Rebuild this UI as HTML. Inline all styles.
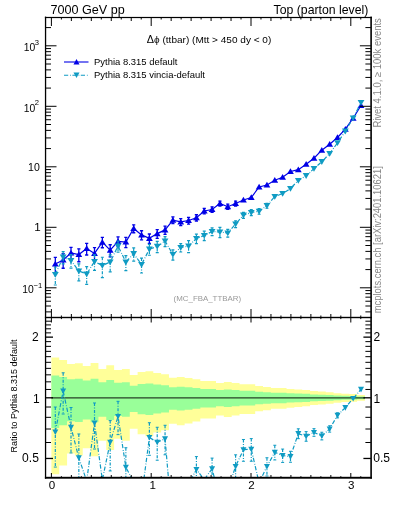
<!DOCTYPE html><html><head><meta charset="utf-8"><style>html,body{margin:0;padding:0;background:#fff;width:393px;height:512px;overflow:hidden;position:relative}svg text{font-family:"Liberation Sans",sans-serif}svg{will-change:transform}</style></head><body><svg width="393" height="512" viewBox="0 0 393 512" style="position:absolute;left:0;top:0"><defs><clipPath id="cm"><rect x="45.5" y="17.5" width="325.4" height="300"/></clipPath><clipPath id="cr"><rect x="45.5" y="317.5" width="325.4" height="160"/></clipPath></defs><g clip-path="url(#cr)"><path d="M51.40 357.60 L59.24 357.60 L59.24 360.10 L67.08 360.10 L67.08 364.00 L74.91 364.00 L74.91 363.30 L82.75 363.30 L82.75 366.00 L90.59 366.00 L90.59 363.10 L98.43 363.10 L98.43 369.10 L106.27 369.10 L106.27 365.30 L114.11 365.30 L114.11 370.00 L121.94 370.00 L121.94 369.10 L129.78 369.10 L129.78 375.00 L137.62 375.00 L137.62 372.10 L145.46 372.10 L145.46 371.20 L153.30 371.20 L153.30 373.00 L161.14 373.00 L161.14 374.20 L168.97 374.20 L168.97 377.80 L176.81 377.80 L176.81 377.00 L184.65 377.00 L184.65 378.00 L192.49 378.00 L192.49 379.20 L200.33 379.20 L200.33 381.00 L208.17 381.00 L208.17 381.00 L216.00 381.00 L216.00 383.00 L223.84 383.00 L223.84 382.00 L231.68 382.00 L231.68 383.00 L239.52 383.00 L239.52 384.20 L247.36 384.20 L247.36 384.20 L255.20 384.20 L255.20 386.10 L263.03 386.10 L263.03 386.90 L270.87 386.90 L270.87 388.00 L278.71 388.00 L278.71 388.00 L286.55 388.00 L286.55 388.90 L294.39 388.90 L294.39 389.50 L302.22 389.50 L302.22 390.10 L310.06 390.10 L310.06 391.10 L317.90 391.10 L317.90 391.60 L325.74 391.60 L325.74 392.20 L333.58 392.20 L333.58 393.20 L341.42 393.20 L341.42 393.80 L349.25 393.80 L349.25 394.10 L357.09 394.10 L357.09 395.00 L364.93 395.00 L364.93 400.69 L357.09 400.69 L357.09 401.66 L349.25 401.66 L349.25 401.99 L341.42 401.99 L341.42 402.66 L333.58 402.66 L333.58 403.78 L325.74 403.78 L325.74 404.47 L317.90 404.47 L317.90 405.06 L310.06 405.06 L310.06 406.24 L302.22 406.24 L302.22 406.97 L294.39 406.97 L294.39 407.71 L286.55 407.71 L286.55 408.84 L278.71 408.84 L278.71 408.84 L270.87 408.84 L270.87 410.25 L263.03 410.25 L263.03 411.31 L255.20 411.31 L255.20 413.91 L247.36 413.91 L247.36 413.91 L239.52 413.91 L239.52 415.62 L231.68 415.62 L231.68 417.10 L223.84 417.10 L223.84 415.62 L216.00 415.62 L216.00 418.61 L208.17 418.61 L208.17 418.61 L200.33 418.61 L200.33 421.45 L192.49 421.45 L192.49 423.43 L184.65 423.43 L184.65 425.14 L176.81 425.14 L176.81 423.77 L168.97 423.77 L168.97 430.21 L161.14 430.21 L161.14 432.54 L153.30 432.54 L153.30 436.20 L145.46 436.20 L145.46 434.34 L137.62 434.34 L137.62 428.72 L129.78 428.72 L129.78 440.79 L121.94 440.79 L121.94 438.78 L114.11 438.78 L114.11 450.08 L106.27 450.08 L106.27 440.79 L98.43 440.79 L98.43 456.15 L90.59 456.15 L90.59 448.26 L82.75 448.26 L82.75 455.57 L74.91 455.57 L74.91 453.60 L67.08 453.60 L67.08 465.47 L59.24 465.47 L59.24 474.36 L51.40 474.36Z" fill="#ffff99"/><path d="M51.40 375.41 L59.24 375.41 L59.24 376.94 L67.08 376.94 L67.08 379.28 L74.91 379.28 L74.91 378.86 L82.75 378.86 L82.75 380.46 L90.59 380.46 L90.59 378.74 L98.43 378.74 L98.43 382.28 L106.27 382.28 L106.27 380.05 L114.11 380.05 L114.11 382.80 L121.94 382.80 L121.94 382.28 L129.78 382.28 L129.78 385.66 L137.62 385.66 L137.62 384.01 L145.46 384.01 L145.46 383.49 L153.30 383.49 L153.30 384.52 L161.14 384.52 L161.14 385.21 L168.97 385.21 L168.97 387.23 L176.81 387.23 L176.81 386.78 L184.65 386.78 L184.65 387.34 L192.49 387.34 L192.49 388.01 L200.33 388.01 L200.33 389.00 L208.17 389.00 L208.17 389.00 L216.00 389.00 L216.00 390.09 L223.84 390.09 L223.84 389.54 L231.68 389.54 L231.68 390.09 L239.52 390.09 L239.52 390.74 L247.36 390.74 L247.36 390.74 L255.20 390.74 L255.20 391.75 L263.03 391.75 L263.03 392.18 L270.87 392.18 L270.87 392.76 L278.71 392.76 L278.71 392.76 L286.55 392.76 L286.55 393.24 L294.39 393.24 L294.39 393.55 L302.22 393.55 L302.22 393.87 L310.06 393.87 L310.06 394.39 L317.90 394.39 L317.90 394.65 L325.74 394.65 L325.74 394.96 L333.58 394.96 L333.58 395.47 L341.42 395.47 L341.42 395.78 L349.25 395.78 L349.25 395.93 L357.09 395.93 L357.09 396.39 L364.93 396.39 L364.93 399.23 L357.09 399.23 L357.09 399.71 L349.25 399.71 L349.25 399.87 L341.42 399.87 L341.42 400.19 L333.58 400.19 L333.58 400.74 L325.74 400.74 L325.74 401.07 L317.90 401.07 L317.90 401.35 L310.06 401.35 L310.06 401.92 L302.22 401.92 L302.22 402.27 L294.39 402.27 L294.39 402.61 L286.55 402.61 L286.55 403.14 L278.71 403.14 L278.71 403.14 L270.87 403.14 L270.87 403.81 L263.03 403.81 L263.03 404.29 L255.20 404.29 L255.20 405.48 L247.36 405.48 L247.36 405.48 L239.52 405.48 L239.52 406.26 L231.68 406.26 L231.68 406.92 L223.84 406.92 L223.84 406.26 L216.00 406.26 L216.00 407.59 L208.17 407.59 L208.17 407.59 L200.33 407.59 L200.33 408.83 L192.49 408.83 L192.49 409.68 L184.65 409.68 L184.65 410.41 L176.81 410.41 L176.81 409.82 L168.97 409.82 L168.97 412.51 L161.14 412.51 L161.14 413.46 L153.30 413.46 L153.30 414.91 L145.46 414.91 L145.46 414.18 L137.62 414.18 L137.62 411.90 L129.78 411.90 L129.78 416.68 L121.94 416.68 L121.94 415.91 L114.11 415.91 L114.11 420.09 L106.27 420.09 L106.27 416.68 L98.43 416.68 L98.43 422.20 L90.59 422.20 L90.59 419.44 L82.75 419.44 L82.75 422.00 L74.91 422.00 L74.91 421.32 L67.08 421.32 L67.08 425.25 L59.24 425.25 L59.24 427.96 L51.40 427.96Z" fill="#99ff99"/></g><line x1="51.40" y1="397.8" x2="364.93" y2="397.8" stroke="#000" stroke-opacity="0.75" stroke-width="1.2"/><g clip-path="url(#cr)"><polyline points="55.32,432.00 63.16,391.00 71.00,427.30 78.83,457.80 86.67,481.00 94.51,423.00 102.35,480.00 110.19,442.20 118.03,416.40 125.86,467.20 133.70,482.00 141.54,497.00 149.38,437.50 157.22,442.20 165.05,438.80 172.89,530.00 180.73,530.00 188.57,484.00 196.41,469.50 204.25,479.50 212.08,468.80 219.92,500.00 227.76,490.00 235.60,466.40 243.44,449.70 251.28,449.20 259.11,483.00 266.95,466.40 274.79,452.30 282.63,455.50 290.47,456.60 298.31,433.60 306.14,436.30 313.98,432.40 321.82,436.00 329.66,428.90 337.50,415.30 345.34,407.60 353.17,398.50 361.01,389.30" fill="none" stroke="#0f9bc3" stroke-width="1.2" stroke-dasharray="4.2,1.9,0.8,1.5"/><line x1="55.32" y1="407.04" x2="55.32" y2="467.05" stroke="#0f9bc3" stroke-width="1.2" stroke-dasharray="3,1.5,1,1.5"/><line x1="53.82" y1="407.04" x2="56.82" y2="407.04" stroke="#0f9bc3" stroke-width="1.0"/><line x1="53.82" y1="467.05" x2="56.82" y2="467.05" stroke="#0f9bc3" stroke-width="1.0"/><path d="M55.32 435.08L58.32 429.48L52.32 429.48Z" fill="#0f9bc3"/><line x1="63.16" y1="372.81" x2="63.16" y2="413.99" stroke="#0f9bc3" stroke-width="1.2" stroke-dasharray="3,1.5,1,1.5"/><line x1="61.66" y1="372.81" x2="64.66" y2="372.81" stroke="#0f9bc3" stroke-width="1.0"/><line x1="61.66" y1="413.99" x2="64.66" y2="413.99" stroke="#0f9bc3" stroke-width="1.0"/><path d="M63.16 394.08L66.16 388.48L60.16 388.48Z" fill="#0f9bc3"/><line x1="71.00" y1="407.49" x2="71.00" y2="452.94" stroke="#0f9bc3" stroke-width="1.2" stroke-dasharray="3,1.5,1,1.5"/><line x1="69.50" y1="407.49" x2="72.50" y2="407.49" stroke="#0f9bc3" stroke-width="1.0"/><line x1="69.50" y1="452.94" x2="72.50" y2="452.94" stroke="#0f9bc3" stroke-width="1.0"/><path d="M71.00 430.38L74.00 424.78L68.00 424.78Z" fill="#0f9bc3"/><line x1="78.83" y1="433.97" x2="78.83" y2="490.65" stroke="#0f9bc3" stroke-width="1.2" stroke-dasharray="3,1.5,1,1.5"/><line x1="77.33" y1="433.97" x2="80.33" y2="433.97" stroke="#0f9bc3" stroke-width="1.0"/><line x1="77.33" y1="490.65" x2="80.33" y2="490.65" stroke="#0f9bc3" stroke-width="1.0"/><path d="M78.83 460.88L81.83 455.28L75.83 455.28Z" fill="#0f9bc3"/><line x1="94.51" y1="402.98" x2="94.51" y2="449.00" stroke="#0f9bc3" stroke-width="1.2" stroke-dasharray="3,1.5,1,1.5"/><line x1="93.01" y1="402.98" x2="96.01" y2="402.98" stroke="#0f9bc3" stroke-width="1.0"/><line x1="93.01" y1="449.00" x2="96.01" y2="449.00" stroke="#0f9bc3" stroke-width="1.0"/><path d="M94.51 426.08L97.51 420.48L91.51 420.48Z" fill="#0f9bc3"/><line x1="110.19" y1="420.60" x2="110.19" y2="470.95" stroke="#0f9bc3" stroke-width="1.2" stroke-dasharray="3,1.5,1,1.5"/><line x1="108.69" y1="420.60" x2="111.69" y2="420.60" stroke="#0f9bc3" stroke-width="1.0"/><line x1="108.69" y1="470.95" x2="111.69" y2="470.95" stroke="#0f9bc3" stroke-width="1.0"/><path d="M110.19 445.28L113.19 439.68L107.19 439.68Z" fill="#0f9bc3"/><line x1="118.03" y1="401.32" x2="118.03" y2="434.62" stroke="#0f9bc3" stroke-width="1.2" stroke-dasharray="3,1.5,1,1.5"/><line x1="116.53" y1="401.32" x2="119.53" y2="401.32" stroke="#0f9bc3" stroke-width="1.0"/><line x1="116.53" y1="434.62" x2="119.53" y2="434.62" stroke="#0f9bc3" stroke-width="1.0"/><path d="M118.03 419.48L121.03 413.88L115.03 413.88Z" fill="#0f9bc3"/><line x1="125.86" y1="447.74" x2="125.86" y2="492.26" stroke="#0f9bc3" stroke-width="1.2" stroke-dasharray="3,1.5,1,1.5"/><line x1="124.36" y1="447.74" x2="127.36" y2="447.74" stroke="#0f9bc3" stroke-width="1.0"/><line x1="124.36" y1="492.26" x2="127.36" y2="492.26" stroke="#0f9bc3" stroke-width="1.0"/><path d="M125.86 470.28L128.86 464.68L122.86 464.68Z" fill="#0f9bc3"/><line x1="149.38" y1="422.72" x2="149.38" y2="455.29" stroke="#0f9bc3" stroke-width="1.2" stroke-dasharray="3,1.5,1,1.5"/><line x1="147.88" y1="422.72" x2="150.88" y2="422.72" stroke="#0f9bc3" stroke-width="1.0"/><line x1="147.88" y1="455.29" x2="150.88" y2="455.29" stroke="#0f9bc3" stroke-width="1.0"/><path d="M149.38 440.58L152.38 434.98L146.38 434.98Z" fill="#0f9bc3"/><line x1="157.22" y1="427.27" x2="157.22" y2="460.21" stroke="#0f9bc3" stroke-width="1.2" stroke-dasharray="3,1.5,1,1.5"/><line x1="155.72" y1="427.27" x2="158.72" y2="427.27" stroke="#0f9bc3" stroke-width="1.0"/><line x1="155.72" y1="460.21" x2="158.72" y2="460.21" stroke="#0f9bc3" stroke-width="1.0"/><path d="M157.22 445.28L160.22 439.68L154.22 439.68Z" fill="#0f9bc3"/><line x1="165.05" y1="425.29" x2="165.05" y2="454.79" stroke="#0f9bc3" stroke-width="1.2" stroke-dasharray="3,1.5,1,1.5"/><line x1="163.55" y1="425.29" x2="166.55" y2="425.29" stroke="#0f9bc3" stroke-width="1.0"/><line x1="163.55" y1="454.79" x2="166.55" y2="454.79" stroke="#0f9bc3" stroke-width="1.0"/><path d="M165.05 441.88L168.05 436.28L162.05 436.28Z" fill="#0f9bc3"/><line x1="196.41" y1="456.59" x2="196.41" y2="484.65" stroke="#0f9bc3" stroke-width="1.2" stroke-dasharray="3,1.5,1,1.5"/><line x1="194.91" y1="456.59" x2="197.91" y2="456.59" stroke="#0f9bc3" stroke-width="1.0"/><line x1="194.91" y1="484.65" x2="197.91" y2="484.65" stroke="#0f9bc3" stroke-width="1.0"/><path d="M196.41 472.58L199.41 466.98L193.41 466.98Z" fill="#0f9bc3"/><line x1="212.08" y1="458.10" x2="212.08" y2="480.99" stroke="#0f9bc3" stroke-width="1.2" stroke-dasharray="3,1.5,1,1.5"/><line x1="210.58" y1="458.10" x2="213.58" y2="458.10" stroke="#0f9bc3" stroke-width="1.0"/><line x1="210.58" y1="480.99" x2="213.58" y2="480.99" stroke="#0f9bc3" stroke-width="1.0"/><path d="M212.08 471.88L215.08 466.28L209.08 466.28Z" fill="#0f9bc3"/><line x1="235.60" y1="454.84" x2="235.60" y2="479.73" stroke="#0f9bc3" stroke-width="1.2" stroke-dasharray="3,1.5,1,1.5"/><line x1="234.10" y1="454.84" x2="237.10" y2="454.84" stroke="#0f9bc3" stroke-width="1.0"/><line x1="234.10" y1="479.73" x2="237.10" y2="479.73" stroke="#0f9bc3" stroke-width="1.0"/><path d="M235.60 469.48L238.60 463.88L232.60 463.88Z" fill="#0f9bc3"/><line x1="243.44" y1="439.49" x2="243.44" y2="461.26" stroke="#0f9bc3" stroke-width="1.2" stroke-dasharray="3,1.5,1,1.5"/><line x1="241.94" y1="439.49" x2="244.94" y2="439.49" stroke="#0f9bc3" stroke-width="1.0"/><line x1="241.94" y1="461.26" x2="244.94" y2="461.26" stroke="#0f9bc3" stroke-width="1.0"/><path d="M243.44 452.78L246.44 447.18L240.44 447.18Z" fill="#0f9bc3"/><line x1="251.28" y1="438.60" x2="251.28" y2="461.26" stroke="#0f9bc3" stroke-width="1.2" stroke-dasharray="3,1.5,1,1.5"/><line x1="249.78" y1="438.60" x2="252.78" y2="438.60" stroke="#0f9bc3" stroke-width="1.0"/><line x1="249.78" y1="461.26" x2="252.78" y2="461.26" stroke="#0f9bc3" stroke-width="1.0"/><path d="M251.28 452.28L254.28 446.68L248.28 446.68Z" fill="#0f9bc3"/><line x1="266.95" y1="457.76" x2="266.95" y2="475.99" stroke="#0f9bc3" stroke-width="1.2" stroke-dasharray="3,1.5,1,1.5"/><line x1="265.45" y1="457.76" x2="268.45" y2="457.76" stroke="#0f9bc3" stroke-width="1.0"/><line x1="265.45" y1="475.99" x2="268.45" y2="475.99" stroke="#0f9bc3" stroke-width="1.0"/><path d="M266.95 469.48L269.95 463.88L263.95 463.88Z" fill="#0f9bc3"/><line x1="274.79" y1="445.26" x2="274.79" y2="459.95" stroke="#0f9bc3" stroke-width="1.2" stroke-dasharray="3,1.5,1,1.5"/><line x1="273.29" y1="445.26" x2="276.29" y2="445.26" stroke="#0f9bc3" stroke-width="1.0"/><line x1="273.29" y1="459.95" x2="276.29" y2="459.95" stroke="#0f9bc3" stroke-width="1.0"/><path d="M274.79 455.38L277.79 449.78L271.79 449.78Z" fill="#0f9bc3"/><line x1="282.63" y1="449.07" x2="282.63" y2="462.44" stroke="#0f9bc3" stroke-width="1.2" stroke-dasharray="3,1.5,1,1.5"/><line x1="281.13" y1="449.07" x2="284.13" y2="449.07" stroke="#0f9bc3" stroke-width="1.0"/><line x1="281.13" y1="462.44" x2="284.13" y2="462.44" stroke="#0f9bc3" stroke-width="1.0"/><path d="M282.63 458.58L285.63 452.98L279.63 452.98Z" fill="#0f9bc3"/><line x1="290.47" y1="451.29" x2="290.47" y2="462.25" stroke="#0f9bc3" stroke-width="1.2" stroke-dasharray="3,1.5,1,1.5"/><line x1="288.97" y1="451.29" x2="291.97" y2="451.29" stroke="#0f9bc3" stroke-width="1.0"/><line x1="288.97" y1="462.25" x2="291.97" y2="462.25" stroke="#0f9bc3" stroke-width="1.0"/><path d="M290.47 459.68L293.47 454.08L287.47 454.08Z" fill="#0f9bc3"/><line x1="298.31" y1="428.81" x2="298.31" y2="438.67" stroke="#0f9bc3" stroke-width="1.2" stroke-dasharray="3,1.5,1,1.5"/><line x1="296.81" y1="428.81" x2="299.81" y2="428.81" stroke="#0f9bc3" stroke-width="1.0"/><line x1="296.81" y1="438.67" x2="299.81" y2="438.67" stroke="#0f9bc3" stroke-width="1.0"/><path d="M298.31 436.68L301.31 431.08L295.31 431.08Z" fill="#0f9bc3"/><line x1="306.14" y1="431.61" x2="306.14" y2="441.25" stroke="#0f9bc3" stroke-width="1.2" stroke-dasharray="3,1.5,1,1.5"/><line x1="304.64" y1="431.61" x2="307.64" y2="431.61" stroke="#0f9bc3" stroke-width="1.0"/><line x1="304.64" y1="441.25" x2="307.64" y2="441.25" stroke="#0f9bc3" stroke-width="1.0"/><path d="M306.14 439.38L309.14 433.78L303.14 433.78Z" fill="#0f9bc3"/><line x1="313.98" y1="428.65" x2="313.98" y2="436.31" stroke="#0f9bc3" stroke-width="1.2" stroke-dasharray="3,1.5,1,1.5"/><line x1="312.48" y1="428.65" x2="315.48" y2="428.65" stroke="#0f9bc3" stroke-width="1.0"/><line x1="312.48" y1="436.31" x2="315.48" y2="436.31" stroke="#0f9bc3" stroke-width="1.0"/><path d="M313.98 435.48L316.98 429.88L310.98 429.88Z" fill="#0f9bc3"/><line x1="321.82" y1="432.25" x2="321.82" y2="439.91" stroke="#0f9bc3" stroke-width="1.2" stroke-dasharray="3,1.5,1,1.5"/><line x1="320.32" y1="432.25" x2="323.32" y2="432.25" stroke="#0f9bc3" stroke-width="1.0"/><line x1="320.32" y1="439.91" x2="323.32" y2="439.91" stroke="#0f9bc3" stroke-width="1.0"/><path d="M321.82 439.08L324.82 433.48L318.82 433.48Z" fill="#0f9bc3"/><line x1="329.66" y1="425.78" x2="329.66" y2="432.13" stroke="#0f9bc3" stroke-width="1.2" stroke-dasharray="3,1.5,1,1.5"/><line x1="328.16" y1="425.78" x2="331.16" y2="425.78" stroke="#0f9bc3" stroke-width="1.0"/><line x1="328.16" y1="432.13" x2="331.16" y2="432.13" stroke="#0f9bc3" stroke-width="1.0"/><path d="M329.66 431.98L332.66 426.38L326.66 426.38Z" fill="#0f9bc3"/><line x1="337.50" y1="412.82" x2="337.50" y2="417.85" stroke="#0f9bc3" stroke-width="1.2" stroke-dasharray="3,1.5,1,1.5"/><line x1="336.00" y1="412.82" x2="339.00" y2="412.82" stroke="#0f9bc3" stroke-width="1.0"/><line x1="336.00" y1="417.85" x2="339.00" y2="417.85" stroke="#0f9bc3" stroke-width="1.0"/><path d="M337.50 418.38L340.50 412.78L334.50 412.78Z" fill="#0f9bc3"/><path d="M345.34 410.68L348.34 405.08L342.34 405.08Z" fill="#0f9bc3"/><path d="M353.17 401.58L356.17 395.98L350.17 395.98Z" fill="#0f9bc3"/><path d="M361.01 392.38L364.01 386.78L358.01 386.78Z" fill="#0f9bc3"/></g><g clip-path="url(#cm)"><polyline points="55.32,264.00 63.16,260.00 71.00,253.00 78.83,254.50 86.67,248.50 94.51,253.40 102.35,242.10 110.19,250.10 118.03,241.40 125.86,242.00 133.70,228.50 141.54,234.90 149.38,238.30 157.22,233.60 165.05,229.90 172.89,220.10 180.73,221.90 188.57,220.50 196.41,217.70 204.25,211.00 212.08,209.50 219.92,203.50 227.76,206.70 235.60,203.50 243.44,200.00 251.28,197.50 259.11,187.00 266.95,185.00 274.79,180.20 282.63,177.20 290.47,171.50 298.31,169.70 306.14,164.20 313.98,158.20 321.82,150.20 329.66,144.20 337.50,137.50 345.34,129.20 353.17,118.20 361.01,105.50" fill="none" stroke="#0000e6" stroke-width="1.2"/><line x1="55.32" y1="257.28" x2="55.32" y2="273.06" stroke="#0000e6" stroke-width="1.3"/><line x1="53.72" y1="257.28" x2="56.92" y2="257.28" stroke="#0000e6" stroke-width="1.3"/><line x1="53.72" y1="273.06" x2="56.92" y2="273.06" stroke="#0000e6" stroke-width="1.3"/><path d="M55.32 260.81L58.72 266.61L51.92 266.61Z" fill="#0000e6"/><line x1="63.16" y1="253.74" x2="63.16" y2="268.24" stroke="#0000e6" stroke-width="1.3"/><line x1="61.56" y1="253.74" x2="64.76" y2="253.74" stroke="#0000e6" stroke-width="1.3"/><line x1="61.56" y1="268.24" x2="64.76" y2="268.24" stroke="#0000e6" stroke-width="1.3"/><path d="M63.16 256.81L66.56 262.61L59.76 262.61Z" fill="#0000e6"/><line x1="71.00" y1="247.44" x2="71.00" y2="260.06" stroke="#0000e6" stroke-width="1.3"/><line x1="69.40" y1="247.44" x2="72.60" y2="247.44" stroke="#0000e6" stroke-width="1.3"/><line x1="69.40" y1="260.06" x2="72.60" y2="260.06" stroke="#0000e6" stroke-width="1.3"/><path d="M71.00 249.81L74.40 255.61L67.60 255.61Z" fill="#0000e6"/><line x1="78.83" y1="248.81" x2="78.83" y2="261.77" stroke="#0000e6" stroke-width="1.3"/><line x1="77.23" y1="248.81" x2="80.43" y2="248.81" stroke="#0000e6" stroke-width="1.3"/><line x1="77.23" y1="261.77" x2="80.43" y2="261.77" stroke="#0000e6" stroke-width="1.3"/><path d="M78.83 251.31L82.23 257.11L75.43 257.11Z" fill="#0000e6"/><line x1="86.67" y1="243.29" x2="86.67" y2="255.00" stroke="#0000e6" stroke-width="1.3"/><line x1="85.07" y1="243.29" x2="88.27" y2="243.29" stroke="#0000e6" stroke-width="1.3"/><line x1="85.07" y1="255.00" x2="88.27" y2="255.00" stroke="#0000e6" stroke-width="1.3"/><path d="M86.67 245.31L90.07 251.11L83.27 251.11Z" fill="#0000e6"/><line x1="94.51" y1="247.68" x2="94.51" y2="260.73" stroke="#0000e6" stroke-width="1.3"/><line x1="92.91" y1="247.68" x2="96.11" y2="247.68" stroke="#0000e6" stroke-width="1.3"/><line x1="92.91" y1="260.73" x2="96.11" y2="260.73" stroke="#0000e6" stroke-width="1.3"/><path d="M94.51 250.21L97.91 256.01L91.11 256.01Z" fill="#0000e6"/><line x1="102.35" y1="237.44" x2="102.35" y2="247.77" stroke="#0000e6" stroke-width="1.3"/><line x1="100.75" y1="237.44" x2="103.95" y2="237.44" stroke="#0000e6" stroke-width="1.3"/><line x1="100.75" y1="247.77" x2="103.95" y2="247.77" stroke="#0000e6" stroke-width="1.3"/><path d="M102.35 238.91L105.75 244.71L98.95 244.71Z" fill="#0000e6"/><line x1="110.19" y1="244.77" x2="110.19" y2="256.79" stroke="#0000e6" stroke-width="1.3"/><line x1="108.59" y1="244.77" x2="111.79" y2="244.77" stroke="#0000e6" stroke-width="1.3"/><line x1="108.59" y1="256.79" x2="111.79" y2="256.79" stroke="#0000e6" stroke-width="1.3"/><path d="M110.19 246.91L113.59 252.71L106.79 252.71Z" fill="#0000e6"/><line x1="118.03" y1="236.90" x2="118.03" y2="246.84" stroke="#0000e6" stroke-width="1.3"/><line x1="116.43" y1="236.90" x2="119.63" y2="236.90" stroke="#0000e6" stroke-width="1.3"/><line x1="116.43" y1="246.84" x2="119.63" y2="246.84" stroke="#0000e6" stroke-width="1.3"/><path d="M118.03 238.21L121.43 244.01L114.63 244.01Z" fill="#0000e6"/><line x1="125.86" y1="237.34" x2="125.86" y2="247.67" stroke="#0000e6" stroke-width="1.3"/><line x1="124.26" y1="237.34" x2="127.46" y2="237.34" stroke="#0000e6" stroke-width="1.3"/><line x1="124.26" y1="247.67" x2="127.46" y2="247.67" stroke="#0000e6" stroke-width="1.3"/><path d="M125.86 238.81L129.26 244.61L122.46 244.61Z" fill="#0000e6"/><line x1="133.70" y1="224.85" x2="133.70" y2="232.73" stroke="#0000e6" stroke-width="1.3"/><line x1="132.10" y1="224.85" x2="135.30" y2="224.85" stroke="#0000e6" stroke-width="1.3"/><line x1="132.10" y1="232.73" x2="135.30" y2="232.73" stroke="#0000e6" stroke-width="1.3"/><path d="M133.70 225.31L137.10 231.11L130.30 231.11Z" fill="#0000e6"/><line x1="141.54" y1="230.76" x2="141.54" y2="239.82" stroke="#0000e6" stroke-width="1.3"/><line x1="139.94" y1="230.76" x2="143.14" y2="230.76" stroke="#0000e6" stroke-width="1.3"/><line x1="139.94" y1="239.82" x2="143.14" y2="239.82" stroke="#0000e6" stroke-width="1.3"/><path d="M141.54 231.71L144.94 237.51L138.14 237.51Z" fill="#0000e6"/><line x1="149.38" y1="234.00" x2="149.38" y2="243.44" stroke="#0000e6" stroke-width="1.3"/><line x1="147.78" y1="234.00" x2="150.98" y2="234.00" stroke="#0000e6" stroke-width="1.3"/><line x1="147.78" y1="243.44" x2="150.98" y2="243.44" stroke="#0000e6" stroke-width="1.3"/><path d="M149.38 235.11L152.78 240.91L145.98 240.91Z" fill="#0000e6"/><line x1="157.22" y1="229.61" x2="157.22" y2="238.30" stroke="#0000e6" stroke-width="1.3"/><line x1="155.62" y1="229.61" x2="158.82" y2="229.61" stroke="#0000e6" stroke-width="1.3"/><line x1="155.62" y1="238.30" x2="158.82" y2="238.30" stroke="#0000e6" stroke-width="1.3"/><path d="M157.22 230.41L160.62 236.21L153.82 236.21Z" fill="#0000e6"/><line x1="165.05" y1="226.12" x2="165.05" y2="234.32" stroke="#0000e6" stroke-width="1.3"/><line x1="163.45" y1="226.12" x2="166.65" y2="226.12" stroke="#0000e6" stroke-width="1.3"/><line x1="163.45" y1="234.32" x2="166.65" y2="234.32" stroke="#0000e6" stroke-width="1.3"/><path d="M165.05 226.71L168.45 232.51L161.65 232.51Z" fill="#0000e6"/><line x1="172.89" y1="216.93" x2="172.89" y2="223.71" stroke="#0000e6" stroke-width="1.3"/><line x1="171.29" y1="216.93" x2="174.49" y2="216.93" stroke="#0000e6" stroke-width="1.3"/><line x1="171.29" y1="223.71" x2="174.49" y2="223.71" stroke="#0000e6" stroke-width="1.3"/><path d="M172.89 216.91L176.29 222.71L169.49 222.71Z" fill="#0000e6"/><line x1="180.73" y1="218.59" x2="180.73" y2="225.68" stroke="#0000e6" stroke-width="1.3"/><line x1="179.13" y1="218.59" x2="182.33" y2="218.59" stroke="#0000e6" stroke-width="1.3"/><line x1="179.13" y1="225.68" x2="182.33" y2="225.68" stroke="#0000e6" stroke-width="1.3"/><path d="M180.73 218.71L184.13 224.51L177.33 224.51Z" fill="#0000e6"/><line x1="188.57" y1="217.36" x2="188.57" y2="224.07" stroke="#0000e6" stroke-width="1.3"/><line x1="186.97" y1="217.36" x2="190.17" y2="217.36" stroke="#0000e6" stroke-width="1.3"/><line x1="186.97" y1="224.07" x2="190.17" y2="224.07" stroke="#0000e6" stroke-width="1.3"/><path d="M188.57 217.31L191.97 223.11L185.17 223.11Z" fill="#0000e6"/><line x1="196.41" y1="214.76" x2="196.41" y2="221.01" stroke="#0000e6" stroke-width="1.3"/><line x1="194.81" y1="214.76" x2="198.01" y2="214.76" stroke="#0000e6" stroke-width="1.3"/><line x1="194.81" y1="221.01" x2="198.01" y2="221.01" stroke="#0000e6" stroke-width="1.3"/><path d="M196.41 214.51L199.81 220.31L193.01 220.31Z" fill="#0000e6"/><line x1="204.25" y1="208.36" x2="204.25" y2="213.94" stroke="#0000e6" stroke-width="1.3"/><line x1="202.65" y1="208.36" x2="205.85" y2="208.36" stroke="#0000e6" stroke-width="1.3"/><line x1="202.65" y1="213.94" x2="205.85" y2="213.94" stroke="#0000e6" stroke-width="1.3"/><path d="M204.25 207.81L207.65 213.61L200.85 213.61Z" fill="#0000e6"/><line x1="212.08" y1="206.86" x2="212.08" y2="212.44" stroke="#0000e6" stroke-width="1.3"/><line x1="210.48" y1="206.86" x2="213.68" y2="206.86" stroke="#0000e6" stroke-width="1.3"/><line x1="210.48" y1="212.44" x2="213.68" y2="212.44" stroke="#0000e6" stroke-width="1.3"/><path d="M212.08 206.31L215.48 212.11L208.68 212.11Z" fill="#0000e6"/><line x1="219.92" y1="201.18" x2="219.92" y2="206.04" stroke="#0000e6" stroke-width="1.3"/><line x1="218.32" y1="201.18" x2="221.52" y2="201.18" stroke="#0000e6" stroke-width="1.3"/><line x1="218.32" y1="206.04" x2="221.52" y2="206.04" stroke="#0000e6" stroke-width="1.3"/><path d="M219.92 200.31L223.32 206.11L216.52 206.11Z" fill="#0000e6"/><line x1="227.76" y1="204.22" x2="227.76" y2="209.44" stroke="#0000e6" stroke-width="1.3"/><line x1="226.16" y1="204.22" x2="229.36" y2="204.22" stroke="#0000e6" stroke-width="1.3"/><line x1="226.16" y1="209.44" x2="229.36" y2="209.44" stroke="#0000e6" stroke-width="1.3"/><path d="M227.76 203.51L231.16 209.31L224.36 209.31Z" fill="#0000e6"/><line x1="235.60" y1="201.18" x2="235.60" y2="206.04" stroke="#0000e6" stroke-width="1.3"/><line x1="234.00" y1="201.18" x2="237.20" y2="201.18" stroke="#0000e6" stroke-width="1.3"/><line x1="234.00" y1="206.04" x2="237.20" y2="206.04" stroke="#0000e6" stroke-width="1.3"/><path d="M235.60 200.31L239.00 206.11L232.20 206.11Z" fill="#0000e6"/><path d="M243.44 196.81L246.84 202.61L240.04 202.61Z" fill="#0000e6"/><path d="M251.28 194.31L254.68 200.11L247.88 200.11Z" fill="#0000e6"/><path d="M259.11 183.81L262.51 189.61L255.71 189.61Z" fill="#0000e6"/><path d="M266.95 181.81L270.35 187.61L263.55 187.61Z" fill="#0000e6"/><path d="M274.79 177.01L278.19 182.81L271.39 182.81Z" fill="#0000e6"/><path d="M282.63 174.01L286.03 179.81L279.23 179.81Z" fill="#0000e6"/><path d="M290.47 168.31L293.87 174.11L287.07 174.11Z" fill="#0000e6"/><path d="M298.31 166.51L301.71 172.31L294.91 172.31Z" fill="#0000e6"/><path d="M306.14 161.01L309.54 166.81L302.74 166.81Z" fill="#0000e6"/><path d="M313.98 155.01L317.38 160.81L310.58 160.81Z" fill="#0000e6"/><path d="M321.82 147.01L325.22 152.81L318.42 152.81Z" fill="#0000e6"/><path d="M329.66 141.01L333.06 146.81L326.26 146.81Z" fill="#0000e6"/><path d="M337.50 134.31L340.90 140.11L334.10 140.11Z" fill="#0000e6"/><path d="M345.34 126.01L348.74 131.81L341.94 131.81Z" fill="#0000e6"/><path d="M353.17 115.01L356.57 120.81L349.77 120.81Z" fill="#0000e6"/><path d="M361.01 102.31L364.41 108.11L357.61 108.11Z" fill="#0000e6"/><polyline points="55.32,274.50 63.16,257.00 71.00,260.50 78.83,271.00 86.67,274.00 94.51,261.50 102.35,265.50 110.19,262.00 118.03,246.00 125.86,262.00 133.70,253.70 141.54,264.50 149.38,249.20 157.22,246.40 165.05,241.10 172.89,254.50 180.73,247.50 188.57,246.00 196.41,238.50 204.25,235.50 212.08,231.50 219.92,232.00 227.76,233.00 235.60,224.00 243.44,215.20 251.28,212.50 259.11,211.30 266.95,205.70 274.79,196.50 282.63,193.60 290.47,188.50 298.31,180.50 306.14,175.70 313.98,168.60 321.82,161.70 329.66,153.60 337.50,142.90 345.34,131.20 353.17,118.00 361.01,102.60" fill="none" stroke="#0f9bc3" stroke-width="1.2" stroke-dasharray="4.2,1.9,0.8,1.5"/><line x1="55.32" y1="267.01" x2="55.32" y2="285.02" stroke="#0f9bc3" stroke-width="1.2" stroke-dasharray="3,1.5,1,1.5"/><line x1="53.82" y1="267.01" x2="56.82" y2="267.01" stroke="#0f9bc3" stroke-width="1.2"/><line x1="53.82" y1="285.02" x2="56.82" y2="285.02" stroke="#0f9bc3" stroke-width="1.2"/><path d="M55.32 277.69L58.72 271.89L51.92 271.89Z" fill="#0f9bc3"/><line x1="63.16" y1="251.54" x2="63.16" y2="263.90" stroke="#0f9bc3" stroke-width="1.2" stroke-dasharray="3,1.5,1,1.5"/><line x1="61.66" y1="251.54" x2="64.66" y2="251.54" stroke="#0f9bc3" stroke-width="1.2"/><line x1="61.66" y1="263.90" x2="64.66" y2="263.90" stroke="#0f9bc3" stroke-width="1.2"/><path d="M63.16 260.19L66.56 254.39L59.76 254.39Z" fill="#0f9bc3"/><line x1="71.00" y1="254.55" x2="71.00" y2="268.20" stroke="#0f9bc3" stroke-width="1.2" stroke-dasharray="3,1.5,1,1.5"/><line x1="69.50" y1="254.55" x2="72.50" y2="254.55" stroke="#0f9bc3" stroke-width="1.2"/><line x1="69.50" y1="268.20" x2="72.50" y2="268.20" stroke="#0f9bc3" stroke-width="1.2"/><path d="M71.00 263.69L74.40 257.89L67.60 257.89Z" fill="#0f9bc3"/><line x1="78.83" y1="263.84" x2="78.83" y2="280.86" stroke="#0f9bc3" stroke-width="1.2" stroke-dasharray="3,1.5,1,1.5"/><line x1="77.33" y1="263.84" x2="80.33" y2="263.84" stroke="#0f9bc3" stroke-width="1.2"/><line x1="77.33" y1="280.86" x2="80.33" y2="280.86" stroke="#0f9bc3" stroke-width="1.2"/><path d="M78.83 274.19L82.23 268.39L75.43 268.39Z" fill="#0f9bc3"/><line x1="86.67" y1="266.61" x2="86.67" y2="284.33" stroke="#0f9bc3" stroke-width="1.2" stroke-dasharray="3,1.5,1,1.5"/><line x1="85.17" y1="266.61" x2="88.17" y2="266.61" stroke="#0f9bc3" stroke-width="1.2"/><line x1="85.17" y1="284.33" x2="88.17" y2="284.33" stroke="#0f9bc3" stroke-width="1.2"/><path d="M86.67 277.19L90.07 271.39L83.27 271.39Z" fill="#0f9bc3"/><line x1="94.51" y1="254.85" x2="94.51" y2="270.42" stroke="#0f9bc3" stroke-width="1.2" stroke-dasharray="3,1.5,1,1.5"/><line x1="93.01" y1="254.85" x2="96.01" y2="254.85" stroke="#0f9bc3" stroke-width="1.2"/><line x1="93.01" y1="270.42" x2="96.01" y2="270.42" stroke="#0f9bc3" stroke-width="1.2"/><path d="M94.51 264.69L97.91 258.89L91.11 258.89Z" fill="#0f9bc3"/><line x1="102.35" y1="257.24" x2="102.35" y2="277.62" stroke="#0f9bc3" stroke-width="1.2" stroke-dasharray="3,1.5,1,1.5"/><line x1="100.85" y1="257.24" x2="103.85" y2="257.24" stroke="#0f9bc3" stroke-width="1.2"/><line x1="100.85" y1="277.62" x2="103.85" y2="277.62" stroke="#0f9bc3" stroke-width="1.2"/><path d="M102.35 268.69L105.75 262.89L98.95 262.89Z" fill="#0f9bc3"/><line x1="110.19" y1="254.83" x2="110.19" y2="271.89" stroke="#0f9bc3" stroke-width="1.2" stroke-dasharray="3,1.5,1,1.5"/><line x1="108.69" y1="254.83" x2="111.69" y2="254.83" stroke="#0f9bc3" stroke-width="1.2"/><line x1="108.69" y1="271.89" x2="111.69" y2="271.89" stroke="#0f9bc3" stroke-width="1.2"/><path d="M110.19 265.19L113.59 259.39L106.79 259.39Z" fill="#0f9bc3"/><line x1="118.03" y1="240.98" x2="118.03" y2="252.21" stroke="#0f9bc3" stroke-width="1.2" stroke-dasharray="3,1.5,1,1.5"/><line x1="116.53" y1="240.98" x2="119.53" y2="240.98" stroke="#0f9bc3" stroke-width="1.2"/><line x1="116.53" y1="252.21" x2="119.53" y2="252.21" stroke="#0f9bc3" stroke-width="1.2"/><path d="M118.03 249.19L121.43 243.39L114.63 243.39Z" fill="#0f9bc3"/><line x1="125.86" y1="255.54" x2="125.86" y2="270.59" stroke="#0f9bc3" stroke-width="1.2" stroke-dasharray="3,1.5,1,1.5"/><line x1="124.36" y1="255.54" x2="127.36" y2="255.54" stroke="#0f9bc3" stroke-width="1.2"/><line x1="124.36" y1="270.59" x2="127.36" y2="270.59" stroke="#0f9bc3" stroke-width="1.2"/><path d="M125.86 265.19L129.26 259.39L122.46 259.39Z" fill="#0f9bc3"/><line x1="133.70" y1="247.91" x2="133.70" y2="261.13" stroke="#0f9bc3" stroke-width="1.2" stroke-dasharray="3,1.5,1,1.5"/><line x1="132.20" y1="247.91" x2="135.20" y2="247.91" stroke="#0f9bc3" stroke-width="1.2"/><line x1="132.20" y1="261.13" x2="135.20" y2="261.13" stroke="#0f9bc3" stroke-width="1.2"/><path d="M133.70 256.89L137.10 251.09L130.30 251.09Z" fill="#0f9bc3"/><line x1="141.54" y1="258.08" x2="141.54" y2="273.01" stroke="#0f9bc3" stroke-width="1.2" stroke-dasharray="3,1.5,1,1.5"/><line x1="140.04" y1="258.08" x2="143.04" y2="258.08" stroke="#0f9bc3" stroke-width="1.2"/><line x1="140.04" y1="273.01" x2="143.04" y2="273.01" stroke="#0f9bc3" stroke-width="1.2"/><path d="M141.54 267.69L144.94 261.89L138.14 261.89Z" fill="#0f9bc3"/><line x1="149.38" y1="244.28" x2="149.38" y2="255.26" stroke="#0f9bc3" stroke-width="1.2" stroke-dasharray="3,1.5,1,1.5"/><line x1="147.88" y1="244.28" x2="150.88" y2="244.28" stroke="#0f9bc3" stroke-width="1.2"/><line x1="147.88" y1="255.26" x2="150.88" y2="255.26" stroke="#0f9bc3" stroke-width="1.2"/><path d="M149.38 252.39L152.78 246.59L145.98 246.59Z" fill="#0f9bc3"/><line x1="157.22" y1="241.43" x2="157.22" y2="252.54" stroke="#0f9bc3" stroke-width="1.2" stroke-dasharray="3,1.5,1,1.5"/><line x1="155.72" y1="241.43" x2="158.72" y2="241.43" stroke="#0f9bc3" stroke-width="1.2"/><line x1="155.72" y1="252.54" x2="158.72" y2="252.54" stroke="#0f9bc3" stroke-width="1.2"/><path d="M157.22 249.59L160.62 243.79L153.82 243.79Z" fill="#0f9bc3"/><line x1="165.05" y1="236.59" x2="165.05" y2="246.54" stroke="#0f9bc3" stroke-width="1.2" stroke-dasharray="3,1.5,1,1.5"/><line x1="163.55" y1="236.59" x2="166.55" y2="236.59" stroke="#0f9bc3" stroke-width="1.2"/><line x1="163.55" y1="246.54" x2="166.55" y2="246.54" stroke="#0f9bc3" stroke-width="1.2"/><path d="M165.05 244.29L168.45 238.49L161.65 238.49Z" fill="#0f9bc3"/><line x1="172.89" y1="249.92" x2="172.89" y2="260.05" stroke="#0f9bc3" stroke-width="1.2" stroke-dasharray="3,1.5,1,1.5"/><line x1="171.39" y1="249.92" x2="174.39" y2="249.92" stroke="#0f9bc3" stroke-width="1.2"/><line x1="171.39" y1="260.05" x2="174.39" y2="260.05" stroke="#0f9bc3" stroke-width="1.2"/><path d="M172.89 257.69L176.29 251.89L169.49 251.89Z" fill="#0f9bc3"/><line x1="180.73" y1="243.67" x2="180.73" y2="251.98" stroke="#0f9bc3" stroke-width="1.2" stroke-dasharray="3,1.5,1,1.5"/><line x1="179.23" y1="243.67" x2="182.23" y2="243.67" stroke="#0f9bc3" stroke-width="1.2"/><line x1="179.23" y1="251.98" x2="182.23" y2="251.98" stroke="#0f9bc3" stroke-width="1.2"/><path d="M180.73 250.69L184.13 244.89L177.33 244.89Z" fill="#0f9bc3"/><line x1="188.57" y1="240.69" x2="188.57" y2="252.66" stroke="#0f9bc3" stroke-width="1.2" stroke-dasharray="3,1.5,1,1.5"/><line x1="187.07" y1="240.69" x2="190.07" y2="240.69" stroke="#0f9bc3" stroke-width="1.2"/><line x1="187.07" y1="252.66" x2="190.07" y2="252.66" stroke="#0f9bc3" stroke-width="1.2"/><path d="M188.57 249.19L191.97 243.39L185.17 243.39Z" fill="#0f9bc3"/><line x1="196.41" y1="234.19" x2="196.41" y2="243.65" stroke="#0f9bc3" stroke-width="1.2" stroke-dasharray="3,1.5,1,1.5"/><line x1="194.91" y1="234.19" x2="197.91" y2="234.19" stroke="#0f9bc3" stroke-width="1.2"/><line x1="194.91" y1="243.65" x2="197.91" y2="243.65" stroke="#0f9bc3" stroke-width="1.2"/><path d="M196.41 241.69L199.81 235.89L193.01 235.89Z" fill="#0f9bc3"/><line x1="204.25" y1="231.17" x2="204.25" y2="240.69" stroke="#0f9bc3" stroke-width="1.2" stroke-dasharray="3,1.5,1,1.5"/><line x1="202.75" y1="231.17" x2="205.75" y2="231.17" stroke="#0f9bc3" stroke-width="1.2"/><line x1="202.75" y1="240.69" x2="205.75" y2="240.69" stroke="#0f9bc3" stroke-width="1.2"/><path d="M204.25 238.69L207.65 232.89L200.85 232.89Z" fill="#0f9bc3"/><line x1="212.08" y1="227.93" x2="212.08" y2="235.63" stroke="#0f9bc3" stroke-width="1.2" stroke-dasharray="3,1.5,1,1.5"/><line x1="210.58" y1="227.93" x2="213.58" y2="227.93" stroke="#0f9bc3" stroke-width="1.2"/><line x1="210.58" y1="235.63" x2="213.58" y2="235.63" stroke="#0f9bc3" stroke-width="1.2"/><path d="M212.08 234.69L215.48 228.89L208.68 228.89Z" fill="#0f9bc3"/><line x1="219.92" y1="227.42" x2="219.92" y2="237.55" stroke="#0f9bc3" stroke-width="1.2" stroke-dasharray="3,1.5,1,1.5"/><line x1="218.42" y1="227.42" x2="221.42" y2="227.42" stroke="#0f9bc3" stroke-width="1.2"/><line x1="218.42" y1="237.55" x2="221.42" y2="237.55" stroke="#0f9bc3" stroke-width="1.2"/><path d="M219.92 235.19L223.32 229.39L216.52 229.39Z" fill="#0f9bc3"/><line x1="227.76" y1="229.43" x2="227.76" y2="237.13" stroke="#0f9bc3" stroke-width="1.2" stroke-dasharray="3,1.5,1,1.5"/><line x1="226.26" y1="229.43" x2="229.26" y2="229.43" stroke="#0f9bc3" stroke-width="1.2"/><line x1="226.26" y1="237.13" x2="229.26" y2="237.13" stroke="#0f9bc3" stroke-width="1.2"/><path d="M227.76 236.19L231.16 230.39L224.36 230.39Z" fill="#0f9bc3"/><line x1="235.60" y1="220.87" x2="235.60" y2="227.56" stroke="#0f9bc3" stroke-width="1.2" stroke-dasharray="3,1.5,1,1.5"/><line x1="234.10" y1="220.87" x2="237.10" y2="220.87" stroke="#0f9bc3" stroke-width="1.2"/><line x1="234.10" y1="227.56" x2="237.10" y2="227.56" stroke="#0f9bc3" stroke-width="1.2"/><path d="M235.60 227.19L239.00 221.39L232.20 221.39Z" fill="#0f9bc3"/><line x1="243.44" y1="212.44" x2="243.44" y2="218.29" stroke="#0f9bc3" stroke-width="1.2" stroke-dasharray="3,1.5,1,1.5"/><line x1="241.94" y1="212.44" x2="244.94" y2="212.44" stroke="#0f9bc3" stroke-width="1.2"/><line x1="241.94" y1="218.29" x2="244.94" y2="218.29" stroke="#0f9bc3" stroke-width="1.2"/><path d="M243.44 218.39L246.84 212.59L240.04 212.59Z" fill="#0f9bc3"/><line x1="251.28" y1="209.63" x2="251.28" y2="215.72" stroke="#0f9bc3" stroke-width="1.2" stroke-dasharray="3,1.5,1,1.5"/><line x1="249.78" y1="209.63" x2="252.78" y2="209.63" stroke="#0f9bc3" stroke-width="1.2"/><line x1="249.78" y1="215.72" x2="252.78" y2="215.72" stroke="#0f9bc3" stroke-width="1.2"/><path d="M251.28 215.69L254.68 209.89L247.88 209.89Z" fill="#0f9bc3"/><line x1="259.11" y1="208.64" x2="259.11" y2="214.26" stroke="#0f9bc3" stroke-width="1.2" stroke-dasharray="3,1.5,1,1.5"/><line x1="257.61" y1="208.64" x2="260.61" y2="208.64" stroke="#0f9bc3" stroke-width="1.2"/><line x1="257.61" y1="214.26" x2="260.61" y2="214.26" stroke="#0f9bc3" stroke-width="1.2"/><path d="M259.11 214.49L262.51 208.69L255.71 208.69Z" fill="#0f9bc3"/><line x1="266.95" y1="203.36" x2="266.95" y2="208.26" stroke="#0f9bc3" stroke-width="1.2" stroke-dasharray="3,1.5,1,1.5"/><line x1="265.45" y1="203.36" x2="268.45" y2="203.36" stroke="#0f9bc3" stroke-width="1.2"/><line x1="265.45" y1="208.26" x2="268.45" y2="208.26" stroke="#0f9bc3" stroke-width="1.2"/><path d="M266.95 208.89L270.35 203.09L263.55 203.09Z" fill="#0f9bc3"/><path d="M274.79 199.69L278.19 193.89L271.39 193.89Z" fill="#0f9bc3"/><path d="M282.63 196.79L286.03 190.99L279.23 190.99Z" fill="#0f9bc3"/><path d="M290.47 191.69L293.87 185.89L287.07 185.89Z" fill="#0f9bc3"/><path d="M298.31 183.69L301.71 177.89L294.91 177.89Z" fill="#0f9bc3"/><path d="M306.14 178.89L309.54 173.09L302.74 173.09Z" fill="#0f9bc3"/><path d="M313.98 171.79L317.38 165.99L310.58 165.99Z" fill="#0f9bc3"/><path d="M321.82 164.89L325.22 159.09L318.42 159.09Z" fill="#0f9bc3"/><path d="M329.66 156.79L333.06 150.99L326.26 150.99Z" fill="#0f9bc3"/><path d="M337.50 146.09L340.90 140.29L334.10 140.29Z" fill="#0f9bc3"/><path d="M345.34 134.39L348.74 128.59L341.94 128.59Z" fill="#0f9bc3"/><path d="M353.17 121.19L356.57 115.39L349.77 115.39Z" fill="#0f9bc3"/><path d="M361.01 105.79L364.41 99.99L357.61 99.99Z" fill="#0f9bc3"/></g><rect x="44.9" y="16.9" width="327" height="1.2" fill="#000"/><rect x="44.9" y="316.8" width="327" height="1.4" fill="#000"/><rect x="44.9" y="476.8" width="327" height="1.9" fill="#000"/><rect x="44.9" y="16.6" width="1.3" height="462.1" fill="#000"/><rect x="370.3" y="16.6" width="1.6" height="462.1" fill="#000"/><line x1="51.40" y1="17.5" x2="51.40" y2="26.0" stroke="#000" stroke-width="1"/><line x1="51.40" y1="317.5" x2="51.40" y2="309.0" stroke="#000" stroke-width="1"/><line x1="51.40" y1="317.5" x2="51.40" y2="322.5" stroke="#000" stroke-width="1"/><line x1="51.40" y1="477.5" x2="51.40" y2="473.0" stroke="#000" stroke-width="1"/><line x1="61.38" y1="17.5" x2="61.38" y2="19.5" stroke="#000" stroke-width="1"/><line x1="61.38" y1="317.5" x2="61.38" y2="315.5" stroke="#000" stroke-width="1"/><line x1="61.38" y1="317.5" x2="61.38" y2="319.1" stroke="#000" stroke-width="1"/><line x1="61.38" y1="477.5" x2="61.38" y2="476.2" stroke="#000" stroke-width="1"/><line x1="71.36" y1="17.5" x2="71.36" y2="21.0" stroke="#000" stroke-width="1"/><line x1="71.36" y1="317.5" x2="71.36" y2="314.0" stroke="#000" stroke-width="1"/><line x1="71.36" y1="317.5" x2="71.36" y2="320.5" stroke="#000" stroke-width="1"/><line x1="71.36" y1="477.5" x2="71.36" y2="475.0" stroke="#000" stroke-width="1"/><line x1="81.34" y1="17.5" x2="81.34" y2="19.5" stroke="#000" stroke-width="1"/><line x1="81.34" y1="317.5" x2="81.34" y2="315.5" stroke="#000" stroke-width="1"/><line x1="81.34" y1="317.5" x2="81.34" y2="319.1" stroke="#000" stroke-width="1"/><line x1="81.34" y1="477.5" x2="81.34" y2="476.2" stroke="#000" stroke-width="1"/><line x1="91.32" y1="17.5" x2="91.32" y2="21.0" stroke="#000" stroke-width="1"/><line x1="91.32" y1="317.5" x2="91.32" y2="314.0" stroke="#000" stroke-width="1"/><line x1="91.32" y1="317.5" x2="91.32" y2="320.5" stroke="#000" stroke-width="1"/><line x1="91.32" y1="477.5" x2="91.32" y2="475.0" stroke="#000" stroke-width="1"/><line x1="101.30" y1="17.5" x2="101.30" y2="19.5" stroke="#000" stroke-width="1"/><line x1="101.30" y1="317.5" x2="101.30" y2="315.5" stroke="#000" stroke-width="1"/><line x1="101.30" y1="317.5" x2="101.30" y2="319.1" stroke="#000" stroke-width="1"/><line x1="101.30" y1="477.5" x2="101.30" y2="476.2" stroke="#000" stroke-width="1"/><line x1="111.28" y1="17.5" x2="111.28" y2="21.0" stroke="#000" stroke-width="1"/><line x1="111.28" y1="317.5" x2="111.28" y2="314.0" stroke="#000" stroke-width="1"/><line x1="111.28" y1="317.5" x2="111.28" y2="320.5" stroke="#000" stroke-width="1"/><line x1="111.28" y1="477.5" x2="111.28" y2="475.0" stroke="#000" stroke-width="1"/><line x1="121.26" y1="17.5" x2="121.26" y2="19.5" stroke="#000" stroke-width="1"/><line x1="121.26" y1="317.5" x2="121.26" y2="315.5" stroke="#000" stroke-width="1"/><line x1="121.26" y1="317.5" x2="121.26" y2="319.1" stroke="#000" stroke-width="1"/><line x1="121.26" y1="477.5" x2="121.26" y2="476.2" stroke="#000" stroke-width="1"/><line x1="131.24" y1="17.5" x2="131.24" y2="21.0" stroke="#000" stroke-width="1"/><line x1="131.24" y1="317.5" x2="131.24" y2="314.0" stroke="#000" stroke-width="1"/><line x1="131.24" y1="317.5" x2="131.24" y2="320.5" stroke="#000" stroke-width="1"/><line x1="131.24" y1="477.5" x2="131.24" y2="475.0" stroke="#000" stroke-width="1"/><line x1="141.22" y1="17.5" x2="141.22" y2="19.5" stroke="#000" stroke-width="1"/><line x1="141.22" y1="317.5" x2="141.22" y2="315.5" stroke="#000" stroke-width="1"/><line x1="141.22" y1="317.5" x2="141.22" y2="319.1" stroke="#000" stroke-width="1"/><line x1="141.22" y1="477.5" x2="141.22" y2="476.2" stroke="#000" stroke-width="1"/><line x1="151.20" y1="17.5" x2="151.20" y2="26.0" stroke="#000" stroke-width="1"/><line x1="151.20" y1="317.5" x2="151.20" y2="309.0" stroke="#000" stroke-width="1"/><line x1="151.20" y1="317.5" x2="151.20" y2="322.5" stroke="#000" stroke-width="1"/><line x1="151.20" y1="477.5" x2="151.20" y2="473.0" stroke="#000" stroke-width="1"/><line x1="161.18" y1="17.5" x2="161.18" y2="19.5" stroke="#000" stroke-width="1"/><line x1="161.18" y1="317.5" x2="161.18" y2="315.5" stroke="#000" stroke-width="1"/><line x1="161.18" y1="317.5" x2="161.18" y2="319.1" stroke="#000" stroke-width="1"/><line x1="161.18" y1="477.5" x2="161.18" y2="476.2" stroke="#000" stroke-width="1"/><line x1="171.16" y1="17.5" x2="171.16" y2="21.0" stroke="#000" stroke-width="1"/><line x1="171.16" y1="317.5" x2="171.16" y2="314.0" stroke="#000" stroke-width="1"/><line x1="171.16" y1="317.5" x2="171.16" y2="320.5" stroke="#000" stroke-width="1"/><line x1="171.16" y1="477.5" x2="171.16" y2="475.0" stroke="#000" stroke-width="1"/><line x1="181.14" y1="17.5" x2="181.14" y2="19.5" stroke="#000" stroke-width="1"/><line x1="181.14" y1="317.5" x2="181.14" y2="315.5" stroke="#000" stroke-width="1"/><line x1="181.14" y1="317.5" x2="181.14" y2="319.1" stroke="#000" stroke-width="1"/><line x1="181.14" y1="477.5" x2="181.14" y2="476.2" stroke="#000" stroke-width="1"/><line x1="191.12" y1="17.5" x2="191.12" y2="21.0" stroke="#000" stroke-width="1"/><line x1="191.12" y1="317.5" x2="191.12" y2="314.0" stroke="#000" stroke-width="1"/><line x1="191.12" y1="317.5" x2="191.12" y2="320.5" stroke="#000" stroke-width="1"/><line x1="191.12" y1="477.5" x2="191.12" y2="475.0" stroke="#000" stroke-width="1"/><line x1="201.10" y1="17.5" x2="201.10" y2="19.5" stroke="#000" stroke-width="1"/><line x1="201.10" y1="317.5" x2="201.10" y2="315.5" stroke="#000" stroke-width="1"/><line x1="201.10" y1="317.5" x2="201.10" y2="319.1" stroke="#000" stroke-width="1"/><line x1="201.10" y1="477.5" x2="201.10" y2="476.2" stroke="#000" stroke-width="1"/><line x1="211.08" y1="17.5" x2="211.08" y2="21.0" stroke="#000" stroke-width="1"/><line x1="211.08" y1="317.5" x2="211.08" y2="314.0" stroke="#000" stroke-width="1"/><line x1="211.08" y1="317.5" x2="211.08" y2="320.5" stroke="#000" stroke-width="1"/><line x1="211.08" y1="477.5" x2="211.08" y2="475.0" stroke="#000" stroke-width="1"/><line x1="221.06" y1="17.5" x2="221.06" y2="19.5" stroke="#000" stroke-width="1"/><line x1="221.06" y1="317.5" x2="221.06" y2="315.5" stroke="#000" stroke-width="1"/><line x1="221.06" y1="317.5" x2="221.06" y2="319.1" stroke="#000" stroke-width="1"/><line x1="221.06" y1="477.5" x2="221.06" y2="476.2" stroke="#000" stroke-width="1"/><line x1="231.04" y1="17.5" x2="231.04" y2="21.0" stroke="#000" stroke-width="1"/><line x1="231.04" y1="317.5" x2="231.04" y2="314.0" stroke="#000" stroke-width="1"/><line x1="231.04" y1="317.5" x2="231.04" y2="320.5" stroke="#000" stroke-width="1"/><line x1="231.04" y1="477.5" x2="231.04" y2="475.0" stroke="#000" stroke-width="1"/><line x1="241.02" y1="17.5" x2="241.02" y2="19.5" stroke="#000" stroke-width="1"/><line x1="241.02" y1="317.5" x2="241.02" y2="315.5" stroke="#000" stroke-width="1"/><line x1="241.02" y1="317.5" x2="241.02" y2="319.1" stroke="#000" stroke-width="1"/><line x1="241.02" y1="477.5" x2="241.02" y2="476.2" stroke="#000" stroke-width="1"/><line x1="251.00" y1="17.5" x2="251.00" y2="26.0" stroke="#000" stroke-width="1"/><line x1="251.00" y1="317.5" x2="251.00" y2="309.0" stroke="#000" stroke-width="1"/><line x1="251.00" y1="317.5" x2="251.00" y2="322.5" stroke="#000" stroke-width="1"/><line x1="251.00" y1="477.5" x2="251.00" y2="473.0" stroke="#000" stroke-width="1"/><line x1="260.98" y1="17.5" x2="260.98" y2="19.5" stroke="#000" stroke-width="1"/><line x1="260.98" y1="317.5" x2="260.98" y2="315.5" stroke="#000" stroke-width="1"/><line x1="260.98" y1="317.5" x2="260.98" y2="319.1" stroke="#000" stroke-width="1"/><line x1="260.98" y1="477.5" x2="260.98" y2="476.2" stroke="#000" stroke-width="1"/><line x1="270.96" y1="17.5" x2="270.96" y2="21.0" stroke="#000" stroke-width="1"/><line x1="270.96" y1="317.5" x2="270.96" y2="314.0" stroke="#000" stroke-width="1"/><line x1="270.96" y1="317.5" x2="270.96" y2="320.5" stroke="#000" stroke-width="1"/><line x1="270.96" y1="477.5" x2="270.96" y2="475.0" stroke="#000" stroke-width="1"/><line x1="280.94" y1="17.5" x2="280.94" y2="19.5" stroke="#000" stroke-width="1"/><line x1="280.94" y1="317.5" x2="280.94" y2="315.5" stroke="#000" stroke-width="1"/><line x1="280.94" y1="317.5" x2="280.94" y2="319.1" stroke="#000" stroke-width="1"/><line x1="280.94" y1="477.5" x2="280.94" y2="476.2" stroke="#000" stroke-width="1"/><line x1="290.92" y1="17.5" x2="290.92" y2="21.0" stroke="#000" stroke-width="1"/><line x1="290.92" y1="317.5" x2="290.92" y2="314.0" stroke="#000" stroke-width="1"/><line x1="290.92" y1="317.5" x2="290.92" y2="320.5" stroke="#000" stroke-width="1"/><line x1="290.92" y1="477.5" x2="290.92" y2="475.0" stroke="#000" stroke-width="1"/><line x1="300.90" y1="17.5" x2="300.90" y2="19.5" stroke="#000" stroke-width="1"/><line x1="300.90" y1="317.5" x2="300.90" y2="315.5" stroke="#000" stroke-width="1"/><line x1="300.90" y1="317.5" x2="300.90" y2="319.1" stroke="#000" stroke-width="1"/><line x1="300.90" y1="477.5" x2="300.90" y2="476.2" stroke="#000" stroke-width="1"/><line x1="310.88" y1="17.5" x2="310.88" y2="21.0" stroke="#000" stroke-width="1"/><line x1="310.88" y1="317.5" x2="310.88" y2="314.0" stroke="#000" stroke-width="1"/><line x1="310.88" y1="317.5" x2="310.88" y2="320.5" stroke="#000" stroke-width="1"/><line x1="310.88" y1="477.5" x2="310.88" y2="475.0" stroke="#000" stroke-width="1"/><line x1="320.86" y1="17.5" x2="320.86" y2="19.5" stroke="#000" stroke-width="1"/><line x1="320.86" y1="317.5" x2="320.86" y2="315.5" stroke="#000" stroke-width="1"/><line x1="320.86" y1="317.5" x2="320.86" y2="319.1" stroke="#000" stroke-width="1"/><line x1="320.86" y1="477.5" x2="320.86" y2="476.2" stroke="#000" stroke-width="1"/><line x1="330.84" y1="17.5" x2="330.84" y2="21.0" stroke="#000" stroke-width="1"/><line x1="330.84" y1="317.5" x2="330.84" y2="314.0" stroke="#000" stroke-width="1"/><line x1="330.84" y1="317.5" x2="330.84" y2="320.5" stroke="#000" stroke-width="1"/><line x1="330.84" y1="477.5" x2="330.84" y2="475.0" stroke="#000" stroke-width="1"/><line x1="340.82" y1="17.5" x2="340.82" y2="19.5" stroke="#000" stroke-width="1"/><line x1="340.82" y1="317.5" x2="340.82" y2="315.5" stroke="#000" stroke-width="1"/><line x1="340.82" y1="317.5" x2="340.82" y2="319.1" stroke="#000" stroke-width="1"/><line x1="340.82" y1="477.5" x2="340.82" y2="476.2" stroke="#000" stroke-width="1"/><line x1="350.80" y1="17.5" x2="350.80" y2="26.0" stroke="#000" stroke-width="1"/><line x1="350.80" y1="317.5" x2="350.80" y2="309.0" stroke="#000" stroke-width="1"/><line x1="350.80" y1="317.5" x2="350.80" y2="322.5" stroke="#000" stroke-width="1"/><line x1="350.80" y1="477.5" x2="350.80" y2="473.0" stroke="#000" stroke-width="1"/><line x1="360.78" y1="17.5" x2="360.78" y2="19.5" stroke="#000" stroke-width="1"/><line x1="360.78" y1="317.5" x2="360.78" y2="315.5" stroke="#000" stroke-width="1"/><line x1="360.78" y1="317.5" x2="360.78" y2="319.1" stroke="#000" stroke-width="1"/><line x1="360.78" y1="477.5" x2="360.78" y2="476.2" stroke="#000" stroke-width="1"/><line x1="45.5" y1="311.88" x2="51.0" y2="311.88" stroke="#000" stroke-width="1"/><line x1="370.9" y1="311.88" x2="365.4" y2="311.88" stroke="#000" stroke-width="1"/><line x1="45.5" y1="306.01" x2="51.0" y2="306.01" stroke="#000" stroke-width="1"/><line x1="370.9" y1="306.01" x2="365.4" y2="306.01" stroke="#000" stroke-width="1"/><line x1="45.5" y1="301.22" x2="51.0" y2="301.22" stroke="#000" stroke-width="1"/><line x1="370.9" y1="301.22" x2="365.4" y2="301.22" stroke="#000" stroke-width="1"/><line x1="45.5" y1="297.17" x2="51.0" y2="297.17" stroke="#000" stroke-width="1"/><line x1="370.9" y1="297.17" x2="365.4" y2="297.17" stroke="#000" stroke-width="1"/><line x1="45.5" y1="293.66" x2="51.0" y2="293.66" stroke="#000" stroke-width="1"/><line x1="370.9" y1="293.66" x2="365.4" y2="293.66" stroke="#000" stroke-width="1"/><line x1="45.5" y1="290.57" x2="51.0" y2="290.57" stroke="#000" stroke-width="1"/><line x1="370.9" y1="290.57" x2="365.4" y2="290.57" stroke="#000" stroke-width="1"/><line x1="45.5" y1="287.80" x2="56.5" y2="287.80" stroke="#000" stroke-width="1"/><line x1="370.9" y1="287.80" x2="359.9" y2="287.80" stroke="#000" stroke-width="1"/><line x1="45.5" y1="269.59" x2="51.0" y2="269.59" stroke="#000" stroke-width="1"/><line x1="370.9" y1="269.59" x2="365.4" y2="269.59" stroke="#000" stroke-width="1"/><line x1="45.5" y1="258.93" x2="51.0" y2="258.93" stroke="#000" stroke-width="1"/><line x1="370.9" y1="258.93" x2="365.4" y2="258.93" stroke="#000" stroke-width="1"/><line x1="45.5" y1="251.38" x2="51.0" y2="251.38" stroke="#000" stroke-width="1"/><line x1="370.9" y1="251.38" x2="365.4" y2="251.38" stroke="#000" stroke-width="1"/><line x1="45.5" y1="245.51" x2="51.0" y2="245.51" stroke="#000" stroke-width="1"/><line x1="370.9" y1="245.51" x2="365.4" y2="245.51" stroke="#000" stroke-width="1"/><line x1="45.5" y1="240.72" x2="51.0" y2="240.72" stroke="#000" stroke-width="1"/><line x1="370.9" y1="240.72" x2="365.4" y2="240.72" stroke="#000" stroke-width="1"/><line x1="45.5" y1="236.67" x2="51.0" y2="236.67" stroke="#000" stroke-width="1"/><line x1="370.9" y1="236.67" x2="365.4" y2="236.67" stroke="#000" stroke-width="1"/><line x1="45.5" y1="233.16" x2="51.0" y2="233.16" stroke="#000" stroke-width="1"/><line x1="370.9" y1="233.16" x2="365.4" y2="233.16" stroke="#000" stroke-width="1"/><line x1="45.5" y1="230.07" x2="51.0" y2="230.07" stroke="#000" stroke-width="1"/><line x1="370.9" y1="230.07" x2="365.4" y2="230.07" stroke="#000" stroke-width="1"/><line x1="45.5" y1="227.30" x2="56.5" y2="227.30" stroke="#000" stroke-width="1"/><line x1="370.9" y1="227.30" x2="359.9" y2="227.30" stroke="#000" stroke-width="1"/><line x1="45.5" y1="209.09" x2="51.0" y2="209.09" stroke="#000" stroke-width="1"/><line x1="370.9" y1="209.09" x2="365.4" y2="209.09" stroke="#000" stroke-width="1"/><line x1="45.5" y1="198.43" x2="51.0" y2="198.43" stroke="#000" stroke-width="1"/><line x1="370.9" y1="198.43" x2="365.4" y2="198.43" stroke="#000" stroke-width="1"/><line x1="45.5" y1="190.88" x2="51.0" y2="190.88" stroke="#000" stroke-width="1"/><line x1="370.9" y1="190.88" x2="365.4" y2="190.88" stroke="#000" stroke-width="1"/><line x1="45.5" y1="185.01" x2="51.0" y2="185.01" stroke="#000" stroke-width="1"/><line x1="370.9" y1="185.01" x2="365.4" y2="185.01" stroke="#000" stroke-width="1"/><line x1="45.5" y1="180.22" x2="51.0" y2="180.22" stroke="#000" stroke-width="1"/><line x1="370.9" y1="180.22" x2="365.4" y2="180.22" stroke="#000" stroke-width="1"/><line x1="45.5" y1="176.17" x2="51.0" y2="176.17" stroke="#000" stroke-width="1"/><line x1="370.9" y1="176.17" x2="365.4" y2="176.17" stroke="#000" stroke-width="1"/><line x1="45.5" y1="172.66" x2="51.0" y2="172.66" stroke="#000" stroke-width="1"/><line x1="370.9" y1="172.66" x2="365.4" y2="172.66" stroke="#000" stroke-width="1"/><line x1="45.5" y1="169.57" x2="51.0" y2="169.57" stroke="#000" stroke-width="1"/><line x1="370.9" y1="169.57" x2="365.4" y2="169.57" stroke="#000" stroke-width="1"/><line x1="45.5" y1="166.80" x2="56.5" y2="166.80" stroke="#000" stroke-width="1"/><line x1="370.9" y1="166.80" x2="359.9" y2="166.80" stroke="#000" stroke-width="1"/><line x1="45.5" y1="148.59" x2="51.0" y2="148.59" stroke="#000" stroke-width="1"/><line x1="370.9" y1="148.59" x2="365.4" y2="148.59" stroke="#000" stroke-width="1"/><line x1="45.5" y1="137.93" x2="51.0" y2="137.93" stroke="#000" stroke-width="1"/><line x1="370.9" y1="137.93" x2="365.4" y2="137.93" stroke="#000" stroke-width="1"/><line x1="45.5" y1="130.38" x2="51.0" y2="130.38" stroke="#000" stroke-width="1"/><line x1="370.9" y1="130.38" x2="365.4" y2="130.38" stroke="#000" stroke-width="1"/><line x1="45.5" y1="124.51" x2="51.0" y2="124.51" stroke="#000" stroke-width="1"/><line x1="370.9" y1="124.51" x2="365.4" y2="124.51" stroke="#000" stroke-width="1"/><line x1="45.5" y1="119.72" x2="51.0" y2="119.72" stroke="#000" stroke-width="1"/><line x1="370.9" y1="119.72" x2="365.4" y2="119.72" stroke="#000" stroke-width="1"/><line x1="45.5" y1="115.67" x2="51.0" y2="115.67" stroke="#000" stroke-width="1"/><line x1="370.9" y1="115.67" x2="365.4" y2="115.67" stroke="#000" stroke-width="1"/><line x1="45.5" y1="112.16" x2="51.0" y2="112.16" stroke="#000" stroke-width="1"/><line x1="370.9" y1="112.16" x2="365.4" y2="112.16" stroke="#000" stroke-width="1"/><line x1="45.5" y1="109.07" x2="51.0" y2="109.07" stroke="#000" stroke-width="1"/><line x1="370.9" y1="109.07" x2="365.4" y2="109.07" stroke="#000" stroke-width="1"/><line x1="45.5" y1="106.30" x2="56.5" y2="106.30" stroke="#000" stroke-width="1"/><line x1="370.9" y1="106.30" x2="359.9" y2="106.30" stroke="#000" stroke-width="1"/><line x1="45.5" y1="88.09" x2="51.0" y2="88.09" stroke="#000" stroke-width="1"/><line x1="370.9" y1="88.09" x2="365.4" y2="88.09" stroke="#000" stroke-width="1"/><line x1="45.5" y1="77.43" x2="51.0" y2="77.43" stroke="#000" stroke-width="1"/><line x1="370.9" y1="77.43" x2="365.4" y2="77.43" stroke="#000" stroke-width="1"/><line x1="45.5" y1="69.88" x2="51.0" y2="69.88" stroke="#000" stroke-width="1"/><line x1="370.9" y1="69.88" x2="365.4" y2="69.88" stroke="#000" stroke-width="1"/><line x1="45.5" y1="64.01" x2="51.0" y2="64.01" stroke="#000" stroke-width="1"/><line x1="370.9" y1="64.01" x2="365.4" y2="64.01" stroke="#000" stroke-width="1"/><line x1="45.5" y1="59.22" x2="51.0" y2="59.22" stroke="#000" stroke-width="1"/><line x1="370.9" y1="59.22" x2="365.4" y2="59.22" stroke="#000" stroke-width="1"/><line x1="45.5" y1="55.17" x2="51.0" y2="55.17" stroke="#000" stroke-width="1"/><line x1="370.9" y1="55.17" x2="365.4" y2="55.17" stroke="#000" stroke-width="1"/><line x1="45.5" y1="51.66" x2="51.0" y2="51.66" stroke="#000" stroke-width="1"/><line x1="370.9" y1="51.66" x2="365.4" y2="51.66" stroke="#000" stroke-width="1"/><line x1="45.5" y1="48.57" x2="51.0" y2="48.57" stroke="#000" stroke-width="1"/><line x1="370.9" y1="48.57" x2="365.4" y2="48.57" stroke="#000" stroke-width="1"/><line x1="45.5" y1="45.80" x2="56.5" y2="45.80" stroke="#000" stroke-width="1"/><line x1="370.9" y1="45.80" x2="359.9" y2="45.80" stroke="#000" stroke-width="1"/><line x1="45.5" y1="27.59" x2="51.0" y2="27.59" stroke="#000" stroke-width="1"/><line x1="370.9" y1="27.59" x2="365.4" y2="27.59" stroke="#000" stroke-width="1"/><line x1="45.5" y1="458.46" x2="53.0" y2="458.46" stroke="#000" stroke-width="1.3"/><line x1="370.9" y1="458.46" x2="363.4" y2="458.46" stroke="#000" stroke-width="1.3"/><line x1="45.5" y1="442.50" x2="51.0" y2="442.50" stroke="#000" stroke-width="1"/><line x1="370.9" y1="442.50" x2="365.4" y2="442.50" stroke="#000" stroke-width="1"/><line x1="45.5" y1="429.01" x2="51.0" y2="429.01" stroke="#000" stroke-width="1"/><line x1="370.9" y1="429.01" x2="365.4" y2="429.01" stroke="#000" stroke-width="1"/><line x1="45.5" y1="417.33" x2="51.0" y2="417.33" stroke="#000" stroke-width="1"/><line x1="370.9" y1="417.33" x2="365.4" y2="417.33" stroke="#000" stroke-width="1"/><line x1="45.5" y1="407.02" x2="51.0" y2="407.02" stroke="#000" stroke-width="1"/><line x1="370.9" y1="407.02" x2="365.4" y2="407.02" stroke="#000" stroke-width="1"/><line x1="45.5" y1="397.80" x2="53.0" y2="397.80" stroke="#000" stroke-width="1.3"/><line x1="370.9" y1="397.80" x2="363.4" y2="397.80" stroke="#000" stroke-width="1.3"/><line x1="45.5" y1="389.46" x2="51.0" y2="389.46" stroke="#000" stroke-width="1"/><line x1="370.9" y1="389.46" x2="365.4" y2="389.46" stroke="#000" stroke-width="1"/><line x1="45.5" y1="381.84" x2="51.0" y2="381.84" stroke="#000" stroke-width="1"/><line x1="370.9" y1="381.84" x2="365.4" y2="381.84" stroke="#000" stroke-width="1"/><line x1="45.5" y1="374.84" x2="51.0" y2="374.84" stroke="#000" stroke-width="1"/><line x1="370.9" y1="374.84" x2="365.4" y2="374.84" stroke="#000" stroke-width="1"/><line x1="45.5" y1="368.36" x2="51.0" y2="368.36" stroke="#000" stroke-width="1"/><line x1="370.9" y1="368.36" x2="365.4" y2="368.36" stroke="#000" stroke-width="1"/><line x1="45.5" y1="362.32" x2="51.0" y2="362.32" stroke="#000" stroke-width="1"/><line x1="370.9" y1="362.32" x2="365.4" y2="362.32" stroke="#000" stroke-width="1"/><line x1="45.5" y1="356.67" x2="51.0" y2="356.67" stroke="#000" stroke-width="1"/><line x1="370.9" y1="356.67" x2="365.4" y2="356.67" stroke="#000" stroke-width="1"/><line x1="45.5" y1="351.36" x2="51.0" y2="351.36" stroke="#000" stroke-width="1"/><line x1="370.9" y1="351.36" x2="365.4" y2="351.36" stroke="#000" stroke-width="1"/><line x1="45.5" y1="346.36" x2="51.0" y2="346.36" stroke="#000" stroke-width="1"/><line x1="370.9" y1="346.36" x2="365.4" y2="346.36" stroke="#000" stroke-width="1"/><line x1="45.5" y1="341.63" x2="51.0" y2="341.63" stroke="#000" stroke-width="1"/><line x1="370.9" y1="341.63" x2="365.4" y2="341.63" stroke="#000" stroke-width="1"/><line x1="45.5" y1="337.14" x2="53.0" y2="337.14" stroke="#000" stroke-width="1.3"/><line x1="370.9" y1="337.14" x2="363.4" y2="337.14" stroke="#000" stroke-width="1.3"/><line x1="45.5" y1="332.87" x2="51.0" y2="332.87" stroke="#000" stroke-width="1"/><line x1="370.9" y1="332.87" x2="365.4" y2="332.87" stroke="#000" stroke-width="1"/><line x1="45.5" y1="328.80" x2="51.0" y2="328.80" stroke="#000" stroke-width="1"/><line x1="370.9" y1="328.80" x2="365.4" y2="328.80" stroke="#000" stroke-width="1"/><line x1="45.5" y1="324.91" x2="51.0" y2="324.91" stroke="#000" stroke-width="1"/><line x1="370.9" y1="324.91" x2="365.4" y2="324.91" stroke="#000" stroke-width="1"/><line x1="45.5" y1="321.19" x2="51.0" y2="321.19" stroke="#000" stroke-width="1"/><line x1="370.9" y1="321.19" x2="365.4" y2="321.19" stroke="#000" stroke-width="1"/><text x="50.5" y="14" font-family="Liberation Sans, sans-serif" font-size="12.6" text-anchor="start" fill="#000">7000 GeV pp</text><text x="273.6" y="14" font-family="Liberation Sans, sans-serif" font-size="12.6" text-anchor="start" fill="#000" textLength="94.8" lengthAdjust="spacingAndGlyphs">Top (parton level)</text><text x="35.2" y="51" font-family="Liberation Sans, sans-serif" font-size="11.6" text-anchor="end" fill="#000" textLength="11.5" lengthAdjust="spacingAndGlyphs">10</text><text x="34.7" y="44.9" font-family="Liberation Sans, sans-serif" font-size="7.6" text-anchor="start" fill="#000">3</text><text x="35.2" y="111.5" font-family="Liberation Sans, sans-serif" font-size="11.6" text-anchor="end" fill="#000" textLength="11.5" lengthAdjust="spacingAndGlyphs">10</text><text x="34.7" y="105.4" font-family="Liberation Sans, sans-serif" font-size="7.6" text-anchor="start" fill="#000">2</text><text x="39.8" y="171" font-family="Liberation Sans, sans-serif" font-size="11.6" text-anchor="end" fill="#000" textLength="11.7" lengthAdjust="spacingAndGlyphs">10</text><text x="40.6" y="231" font-family="Liberation Sans, sans-serif" font-size="11.6" text-anchor="end" fill="#000">1</text><text x="33.7" y="292.8" font-family="Liberation Sans, sans-serif" font-size="11.6" text-anchor="end" fill="#000" textLength="11.5" lengthAdjust="spacingAndGlyphs">10</text><text x="33.5" y="287.6" font-family="Liberation Sans, sans-serif" font-size="7.6" text-anchor="start" fill="#000">&#8722;1</text><text x="38.8" y="340.8" font-family="Liberation Sans, sans-serif" font-size="12" text-anchor="end" fill="#000">2</text><text x="39.6" y="402.6" font-family="Liberation Sans, sans-serif" font-size="12" text-anchor="end" fill="#000">1</text><text x="38.9" y="462.3" font-family="Liberation Sans, sans-serif" font-size="12" text-anchor="end" fill="#000" textLength="16.8" lengthAdjust="spacingAndGlyphs">0.5</text><text x="373.4" y="340.8" font-family="Liberation Sans, sans-serif" font-size="12" text-anchor="start" fill="#000">2</text><text x="373.6" y="402.6" font-family="Liberation Sans, sans-serif" font-size="12" text-anchor="start" fill="#000">1</text><text x="373.2" y="462.3" font-family="Liberation Sans, sans-serif" font-size="12" text-anchor="start" fill="#000" textLength="16.8" lengthAdjust="spacingAndGlyphs">0.5</text><text x="51.9" y="489.3" font-family="Liberation Sans, sans-serif" font-size="11.6" text-anchor="middle" fill="#000">0</text><text x="152.7" y="489.3" font-family="Liberation Sans, sans-serif" font-size="11.6" text-anchor="middle" fill="#000">1</text><text x="251.5" y="489.3" font-family="Liberation Sans, sans-serif" font-size="11.6" text-anchor="middle" fill="#000">2</text><text x="351.29999999999995" y="489.3" font-family="Liberation Sans, sans-serif" font-size="11.6" text-anchor="middle" fill="#000">3</text><text x="146.8" y="43.4" font-family="Liberation Sans, sans-serif" font-size="9.6" text-anchor="start" fill="#000" textLength="124.5" lengthAdjust="spacingAndGlyphs"><tspan font-size="10.4">&#916;</tspan>&#981; (ttbar) (Mtt &gt; 450 dy &lt; 0)</text><line x1="64" y1="62" x2="88.5" y2="62" stroke="#0000e6" stroke-width="1.1"/><path d="M76.50 59.03L79.50 64.43L73.50 64.43Z" fill="#0000e6"/><text x="94" y="64.7" font-family="Liberation Sans, sans-serif" font-size="9.6" text-anchor="start" fill="#000" textLength="83.5" lengthAdjust="spacingAndGlyphs">Pythia 8.315 default</text><line x1="64" y1="75.3" x2="88.5" y2="75.3" stroke="#0f9bc3" stroke-width="1.05" stroke-dasharray="4.2,1.9,0.8,1.5"/><path d="M76.50 77.97L79.50 72.57L73.50 72.57Z" fill="#0f9bc3"/><text x="94" y="78" font-family="Liberation Sans, sans-serif" font-size="9.6" text-anchor="start" fill="#000" textLength="111" lengthAdjust="spacingAndGlyphs">Pythia 8.315 vincia-default</text><text x="173.6" y="301.2" font-family="Liberation Sans, sans-serif" font-size="8" text-anchor="start" fill="#999" textLength="67.5" lengthAdjust="spacingAndGlyphs">(MC_FBA_TTBAR)</text><g transform="translate(381,127.6) rotate(-90)"><text x="0" y="0" font-family="Liberation Sans, sans-serif" font-size="10.3" text-anchor="start" fill="#888" textLength="109.4" lengthAdjust="spacingAndGlyphs">Rivet 4.1.0, &#8805; 100k events</text></g><g transform="translate(381.2,313.2) rotate(-90)"><text x="0" y="0" font-family="Liberation Sans, sans-serif" font-size="10.3" text-anchor="start" fill="#888" textLength="147" lengthAdjust="spacingAndGlyphs">mcplots.cern.ch [arXiv:2401.10621]</text></g><g transform="translate(17.2,452.6) rotate(-90)"><text x="0" y="0" font-family="Liberation Sans, sans-serif" font-size="9.0" text-anchor="start" fill="#000" textLength="113" lengthAdjust="spacingAndGlyphs">Ratio to Pythia 8.315 default</text></g></svg></body></html>
